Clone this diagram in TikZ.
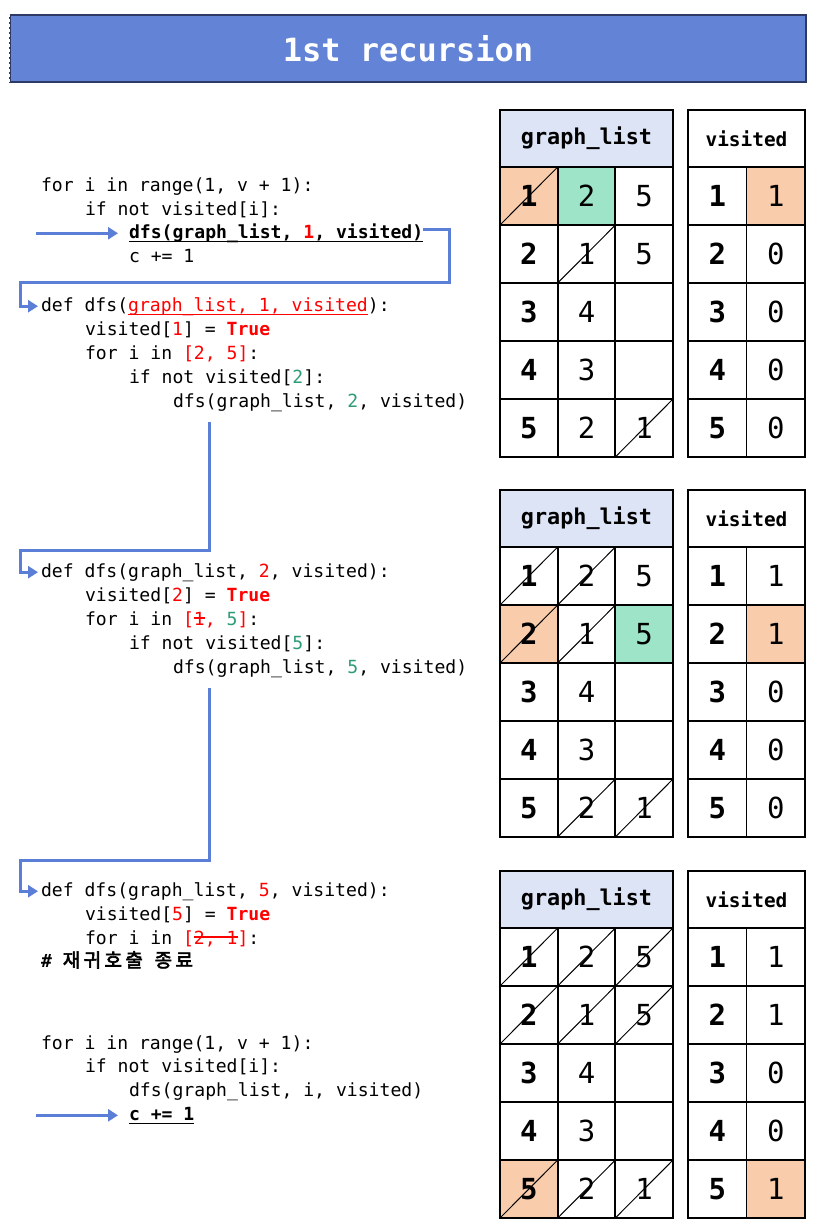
\documentclass[tikz,border=0pt]{standalone}
\usepackage{fontspec}
\setmonofont{DejaVu Sans Mono}
\newfontfamily\kofont[FakeBold=3,LetterSpace=18]{Noto Sans CJK KR}
\usetikzlibrary{arrows.meta,calc,backgrounds}

\definecolor{barblue}{HTML}{6283D6}
\definecolor{barnavy}{HTML}{2E3A66}
\definecolor{flowblue}{HTML}{5B7FD6}
\definecolor{codered}{HTML}{FF0000}
\definecolor{codegreen}{HTML}{2E9C78}
\definecolor{headblue}{HTML}{DDE4F5}
\definecolor{hotfill}{HTML}{F9CCAC}
\definecolor{nextfill}{HTML}{9DE4C8}

\newcommand{\codefont}{\ttfamily\fontsize{18.1}{24}\selectfont}
\newcommand{\cellfont}{\ttfamily\fontsize{29}{34}\selectfont}
\newcommand{\rd}[1]{\textcolor{codered}{#1}}
\newcommand{\gr}[1]{\textcolor{codegreen}{#1}}
\newcommand{\codeul}[1]{\setbox0\hbox{#1}\rlap{\rule[-3.8pt]{\wd0}{1.2pt}}\box0}
\newcommand{\codest}[1]{\setbox0\hbox{#1}\rlap{\rule[6.5pt]{\wd0}{1.1pt}}\box0}

\tikzset{
  codeline/.style={anchor=base west, inner sep=0pt, outer sep=0pt, font=\codefont},
  flow/.style={draw=flowblue, line width=3pt, -{Triangle[length=10pt,width=12pt]}},
  cellbox/.style={draw, line width=1.7pt, anchor=north west, inner sep=0pt, outer sep=0pt,
    minimum width=57.7pt, minimum height=58pt, font=\cellfont},
  keycell/.style={cellbox, font=\cellfont\bfseries},
  headbox/.style={cellbox, minimum height=57pt},
  strikeline/.style={line width=1pt},
  titlebar/.style={draw=barnavy, line width=2.2pt, fill=barblue, minimum width=796pt,
    minimum height=67pt, inner sep=0pt, text=white,
    font=\ttfamily\bfseries\fontsize{32}{36}\selectfont}
}

\begin{document}
\begin{tikzpicture}[x=1pt,y=-1pt]
\useasboundingbox (0,0) rectangle (817,1231);

% title
\node[titlebar] (title) at (408,48.5) {1st recursion};
\draw[white, line width=0.8pt, dash pattern=on 3pt off 2pt] (title.north west) rectangle (title.south east);

% outer loop, first call
\node[codeline] (a1) at (41,191) {for i in range(1, v + 1):};
\node[codeline] (a2) at (85,215) {if not visited[i]:};
\node[codeline] (a3) at (129,238.5) {\textbf{\codeul{dfs(graph\_list, \rd{1}, visited)}}};
\node[codeline] (a4) at (129,262) {c += 1};

% dfs(1)
\node[codeline] (b1) at (41,311) {def dfs(\rd{\codeul{graph\_list, 1, visited}}):};
\node[codeline] (b2) at (85,335) {visited[\rd{1}] = \rd{\textbf{True}}};
\node[codeline] (b3) at (85,359) {for i in \rd{[2, 5]}:};
\node[codeline] (b4) at (129,383) {if not visited[\gr{2}]:};
\node[codeline] (b5) at (173,407) {dfs(graph\_list, \gr{2}, visited)};

% dfs(2)
\node[codeline] (c1) at (41,577) {def dfs(graph\_list, \rd{2}, visited):};
\node[codeline] (c2) at (85,601) {visited[\rd{2}] = \rd{\textbf{True}}};
\node[codeline] (c3) at (85,625) {for i in \rd{[\codest{1},} \gr{5}\rd{]}:};
\node[codeline] (c4) at (129,649) {if not visited[\gr{5}]:};
\node[codeline] (c5) at (173,673) {dfs(graph\_list, \gr{5}, visited)};

% dfs(5)
\node[codeline] (d1) at (41,896) {def dfs(graph\_list, \rd{5}, visited):};
\node[codeline] (d2) at (85,920) {visited[\rd{5}] = \rd{\textbf{True}}};
\node[codeline] (d3) at (85,944) {for i in \rd{[\codest{2, 1}]}:};
\node[codeline] (d4) at (41,967) {\textbf{\#} {\kofont\fontsize{19}{24}\selectfont 재귀호출\hspace{4pt} 종료}};

% back in the outer loop
\node[codeline] (e1) at (41,1049) {for i in range(1, v + 1):};
\node[codeline] (e2) at (85,1072) {if not visited[i]:};
\node[codeline] (e3) at (129,1096) {dfs(graph\_list, i, visited)};
\node[codeline] (e4) at (129,1120) {\textbf{\codeul{c += 1}}};

% flow arrows
\coordinate (k1) at (20,282);
\coordinate (k2) at (20,550);
\coordinate (k3) at (20,860);
\draw[flow] ([xshift=-93pt]a3.west) -- ([xshift=-11pt]a3.west);
\draw[flow] ([yshift=4pt]a3.east) -- ++(26,0) |- (k1) |- ([xshift=-3pt]b1.west);
\draw[flow] ([xshift=36pt,yshift=-11pt]b5.south west) |- (k2) |- ([xshift=-3pt]c1.west);
\draw[flow] ([xshift=36pt,yshift=-11pt]c5.south west) |- (k3) |- ([xshift=-3pt]d1.west);
\draw[flow] ([xshift=-93pt]e4.west) -- ([xshift=-11pt]e4.west);

% tables
\foreach \t/\ty/\va/\vb/\vc/\vd/\ve in {1/110/1/0/0/0/0, 2/490/1/1/0/0/0, 3/871/1/1/0/0/1} {
  \node[headbox, fill=headblue, minimum width=173pt, font=\ttfamily\bfseries\fontsize{21.8}{24}\selectfont] (gh\t) at (500,\ty) {graph\_list};
  \node[headbox, minimum width=117pt, font=\ttfamily\bfseries\fontsize{19.4}{22}\selectfont] (vh\t) at (688,\ty) {visited};
  \foreach \rw/\ga/\gb/\gc in {1/1/2/5, 2/2/1/5, 3/3/4/, 4/4/3/, 5/5/2/1} {
    \pgfmathsetmacro\ry{\ty+57+(\rw-1)*58}
    \node[keycell] (g\t-\rw-1) at (500,\ry) {\ga};
    \node[cellbox] (g\t-\rw-2) at (557.7,\ry) {\gb};
    \node[cellbox] (g\t-\rw-3) at (615.3,\ry) {\gc};
    \node[keycell, minimum width=58.5pt] (v\t-\rw-1) at (688,\ry) {\rw};
    \node[cellbox, minimum width=58.5pt] (v\t-\rw-2) at (746.5,\ry) {\ifcase\rw\or\va\or\vb\or\vc\or\vd\or\ve\fi};
  }
}

% highlighted cells
\begin{scope}[on background layer]
  \fill[white] (0,0) rectangle (817,1231);
  \foreach \n in {g1-1-1, v1-1-2, g2-2-1, v2-2-2, g3-5-1, v3-5-2}
    \fill[hotfill] (\n.north west) rectangle (\n.south east);
  \foreach \n in {g1-1-2, g2-2-3}
    \fill[nextfill] (\n.north west) rectangle (\n.south east);
\end{scope}

% crossed out neighbours
\foreach \n in {g1-1-1, g1-2-2, g1-5-3, g2-1-1, g2-1-2, g2-2-1, g2-2-2, g2-5-2, g2-5-3,
  g3-1-1, g3-1-2, g3-1-3, g3-2-1, g3-2-2, g3-2-3, g3-5-1, g3-5-2, g3-5-3}
  \draw[strikeline] (\n.south west) -- (\n.north east);
\end{tikzpicture}
\end{document}
